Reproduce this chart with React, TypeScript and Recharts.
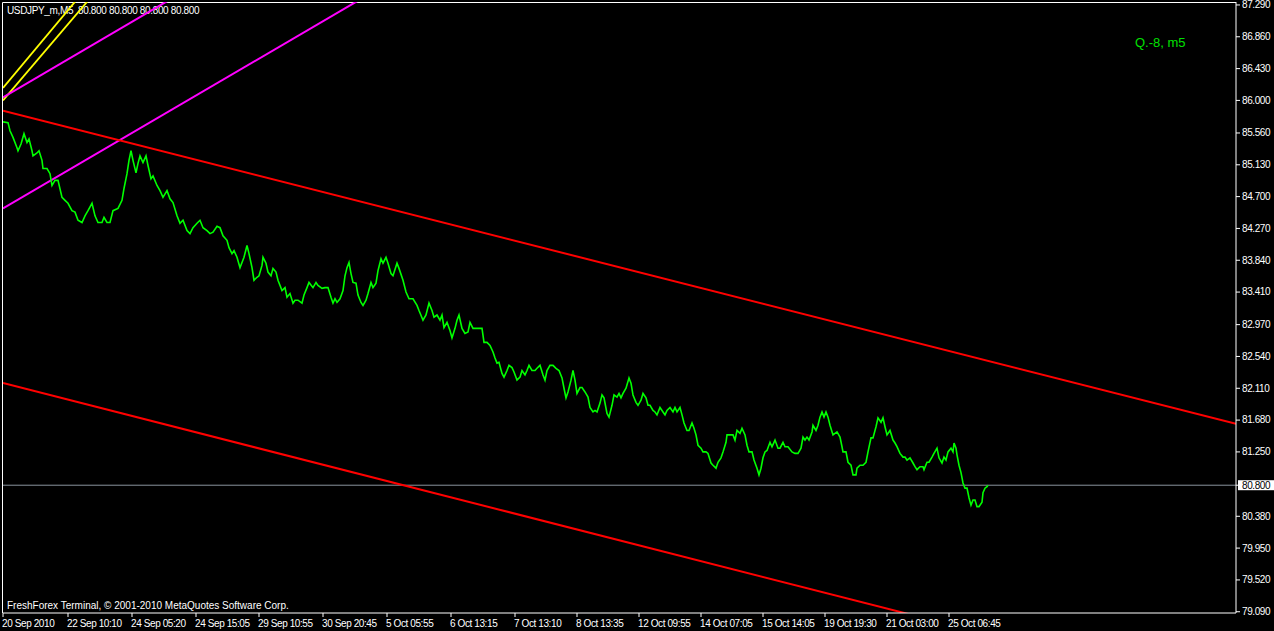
import React from 'react';
import { ComposedChart, Line, XAxis, YAxis, ReferenceLine } from 'recharts';

const W = 1274;
const H = 631;
const FONT = '"Liberation Sans", Arial, sans-serif';

const symbolTitle = 'USDJPY_m,M5  80.800 80.800 80.800 80.800';
const indicatorLabel = 'Q.-8, m5';
const footerText = 'FreshForex Terminal, \u00A9 2001-2010 MetaQuotes Software Corp.';

const currentPrice = 80.8;
const priceDomain: [number, number] = [79.073, 87.33];
const barDomain: [number, number] = [0, 616.5];

const priceTicks = [87.29, 86.86, 86.43, 86.0, 85.56, 85.13, 84.7, 84.27, 83.84, 83.41, 82.97, 82.54, 82.11, 81.68, 81.25, 80.8, 80.38, 79.95, 79.52, 79.09];

const timeTickBars = [0, 32.5, 64.5, 96.5, 128, 160, 192, 224, 256, 287, 318, 349, 380, 411, 442, 473];
const timeTickLabels = ['20 Sep 2010', '22 Sep 10:10', '24 Sep 05:20', '24 Sep 15:05', '29 Sep 10:55', '30 Sep 20:45', '5 Oct 05:55', '6 Oct 13:15', '7 Oct 13:10', '8 Oct 13:35', '12 Oct 09:55', '14 Oct 07:05', '15 Oct 14:05', '19 Oct 19:30', '21 Oct 03:00', '25 Oct 06:45'];

// [bar index, price]
const usdjpyM5: [number, number][] = [
  [0, 85.71], [2.5, 85.7], [3.5, 85.59], [5, 85.5], [7, 85.36], [7.5, 85.32], [9, 85.41], [10.5, 85.55], [12, 85.43], [13, 85.48], [14.5, 85.32], [15, 85.25], [17, 85.29], [18, 85.32], [19.5, 85.19], [20, 85.08], [22, 85.08], [23.5, 85.01], [24.5, 84.85], [26, 84.92], [27.5, 84.92], [29.5, 84.69], [31, 84.65], [32.5, 84.61], [34.5, 84.51], [36, 84.49], [37.5, 84.38], [39.5, 84.35], [41, 84.44], [42.5, 84.51], [44.5, 84.61], [46, 84.44], [47.5, 84.35], [49.5, 84.35], [50.5, 84.42], [52, 84.35], [53.5, 84.35], [55, 84.51], [57.5, 84.54], [59.5, 84.65], [60.5, 84.81], [62, 85.01], [63, 85.19], [64, 85.32], [65, 85.19], [66.5, 85.02], [67.5, 85.15], [68.5, 85.25], [70, 85.16], [71.5, 85.25], [72.5, 85.12], [74, 84.94], [75, 84.98], [77, 84.85], [78.5, 84.78], [80, 84.69], [82, 84.78], [83.5, 84.67], [85, 84.62], [87, 84.44], [88.5, 84.34], [90, 84.38], [92, 84.24], [93.5, 84.2], [95, 84.28], [97, 84.34], [98.5, 84.38],
  [100, 84.28], [102, 84.24], [103.5, 84.2], [105, 84.22], [107, 84.3], [108.5, 84.28], [110, 84.17], [112, 84.11], [113, 84.01], [114.5, 83.93], [115.5, 83.97], [117, 83.88], [118.5, 83.74], [119.5, 83.81], [120.5, 83.88], [122, 84.04], [123, 83.93], [124.5, 83.74], [125.5, 83.57], [127, 83.61], [128, 83.63], [129.5, 83.77], [130, 83.88], [131.5, 83.8], [132.5, 83.68], [134, 83.63], [135, 83.73], [136.5, 83.68], [137.5, 83.57], [139.5, 83.43], [141, 83.47], [142, 83.34], [143.5, 83.39], [145, 83.26], [146, 83.3], [147.5, 83.3], [149.5, 83.26], [150.5, 83.37], [152, 83.47], [153, 83.54], [155, 83.47], [156.5, 83.54], [157.5, 83.5], [159.5, 83.46], [161, 83.47], [162.5, 83.47], [164, 83.34], [165, 83.26], [166, 83.32], [167, 83.27], [168.5, 83.32], [170, 83.43], [171, 83.63], [172, 83.74], [173, 83.81], [174, 83.66], [175, 83.54], [176.5, 83.53], [177.5, 83.37], [179, 83.27], [180, 83.23], [181.5, 83.3], [182.5, 83.39], [184, 83.54], [185, 83.47], [186.5, 83.53], [187.5, 83.7], [189, 83.86], [190, 83.8], [191.5, 83.88], [192.5, 83.8], [194, 83.66], [195, 83.63], [197, 83.8], [198, 83.73],
  [200, 83.57], [201.5, 83.41], [203, 83.32], [205, 83.32], [207, 83.23], [208, 83.16], [210, 83.03], [211.5, 83.1], [213, 83.26], [214.5, 83.16], [215.5, 83.07], [217, 83.1], [218.5, 83.03], [219.5, 83.1], [220.5, 82.93], [222, 83.0], [223.5, 82.89], [224.5, 82.79], [226, 82.92], [227, 83.03], [228, 83.1], [229.5, 82.92], [231, 82.85], [232.5, 82.87], [233.5, 83.0], [235, 82.92], [237.5, 82.92], [239.5, 82.92], [240.5, 82.73], [242, 82.73], [243.5, 82.69], [245, 82.6], [246, 82.52], [247, 82.45], [248, 82.46], [249.5, 82.31], [250.5, 82.26], [252, 82.35], [253, 82.42], [254.5, 82.39], [255.5, 82.33], [257, 82.22], [258.5, 82.26], [259.5, 82.35], [261, 82.29], [262, 82.35], [263, 82.42], [264.5, 82.35], [266, 82.35], [267, 82.38], [268.5, 82.42], [270, 82.29], [271, 82.22], [272, 82.35], [273.5, 82.42], [275, 82.42], [276.5, 82.38], [278, 82.35], [279.5, 82.25], [280.5, 82.11], [281.5, 81.98], [282.5, 82.06], [284, 82.22], [285, 82.35], [286, 82.22], [287, 82.04], [288.5, 82.12], [289.5, 82.12], [291, 82.06], [292.5, 81.99], [293.5, 81.85], [295, 81.79], [296, 81.81], [297, 81.79], [298.5, 81.91], [299.5, 82.02], [300.5, 81.98], [302, 81.77], [303, 81.72], [304.5, 81.88], [305.5, 82.02], [307, 81.99], [308, 82.04], [309, 81.98], [310, 82.04], [311.5, 82.11], [313, 82.25], [314, 82.18], [315, 82.02], [316.5, 81.92], [317.5, 81.88], [319, 81.95], [320, 82.04], [321.5, 81.98], [322.5, 81.88],
  [323.5, 81.88], [325, 81.81], [326, 81.79], [327, 81.75], [328.5, 81.85], [330, 81.79], [331, 81.75], [332, 81.81], [333.5, 81.85], [335, 81.79], [336, 81.85], [337, 81.79], [338.5, 81.85], [339.5, 81.75], [340.5, 81.64], [342, 81.54], [343, 81.54], [344.5, 81.64], [345.5, 81.57], [346.5, 81.48], [347.5, 81.34], [349, 81.3], [350, 81.25], [351.5, 81.25], [352.5, 81.23], [354, 81.1], [355, 81.07], [356.5, 81.03], [357.5, 81.11], [359, 81.17], [360, 81.25], [361.5, 81.38], [362, 81.48], [363.5, 81.48], [365, 81.48], [366, 81.41], [367, 81.54], [368.5, 81.5], [369.5, 81.57], [371, 81.48], [372, 81.34], [373, 81.25], [374.5, 81.25], [375.5, 81.14], [377, 81.03], [378, 80.94], [379, 81.03], [380, 81.17], [381, 81.25], [382, 81.27], [383.5, 81.38], [384.5, 81.32], [386, 81.41], [387.5, 81.3], [388.5, 81.3], [390, 81.38], [391, 81.32], [392.5, 81.32], [394.5, 81.25], [396, 81.23], [397.5, 81.23], [399, 81.3], [400, 81.45], [401, 81.41], [402, 81.45], [403, 81.41], [404.5, 81.52], [405, 81.61], [406.5, 81.54], [407.5, 81.61], [408.5, 81.72], [409.5, 81.79], [410.5, 81.72], [411.5, 81.79], [412.5, 81.72], [413.5, 81.61], [415, 81.48], [416, 81.5], [417, 81.52], [418.5, 81.45],
  [419.5, 81.32], [420, 81.25], [421.5, 81.25], [422.5, 81.11], [424, 81.07], [425, 80.94], [426.5, 80.94], [427, 81.03], [428.5, 81.07], [430, 81.07], [431.5, 81.11], [432.5, 81.25], [434, 81.44], [435, 81.44], [436.5, 81.59], [437.5, 81.71], [439, 81.65], [440, 81.71], [441, 81.59], [442, 81.48], [443.5, 81.54], [445, 81.41], [446, 81.37], [447, 81.32], [448.5, 81.23], [450, 81.18], [451, 81.18], [452, 81.14], [453.5, 81.17], [455, 81.1], [456, 81.05], [457, 81.01], [458.5, 81.05], [460, 81.05], [460.5, 81.01], [462, 81.11], [463, 81.11], [464.5, 81.18], [465.5, 81.23], [467, 81.3], [468, 81.17], [469.5, 81.1], [470.5, 81.18], [471.5, 81.14], [472.5, 81.25], [474, 81.3], [475, 81.25], [475.5, 81.37], [476.5, 81.3], [477, 81.21], [478, 81.07], [479, 80.97], [480, 80.83], [481, 80.76], [482, 80.76], [483, 80.63], [484, 80.53], [485, 80.6], [486, 80.6], [487, 80.51], [488, 80.51], [489.5, 80.57], [490, 80.7], [491, 80.76], [492, 80.78], [492.5, 80.8],
];

// Trend lines: [bar, price] endpoints
const channelUpper: [number, number][] = [[0, 85.86], [616.5, 81.63]];
const channelLower: [number, number][] = [[0, 82.18], [616.5, 77.93]];
const magentaLong: [number, number][] = [[0, 84.54], [616.5, 94.29]];
const magentaShort: [number, number][] = [[0, 86.04], [200, 89.21]];
const yellowFirst: [number, number][] = [[0, 86.17], [100, 89.4]];
const yellowSecond: [number, number][] = [[0, 86.0], [100, 89.17]];

const toPoints = (arr: [number, number][]) => arr.map(([b, p]) => ({ b, p }));

const PriceTick = (props: any) => {
  const { x, y, payload } = props;
  const v = payload.value as number;
  const label = v.toFixed(3);
  if (Math.abs(v - currentPrice) < 1e-6) {
    return (
      <g>
        <rect x={x - 4} y={y - 5} width={40} height={10} fill="#ffffff" />
        <text x={x} y={y} dy={3.4} fill="#000000" fontSize={10} fontFamily={FONT} letterSpacing={-0.4}>{label}</text>
      </g>
    );
  }
  return (
    <text x={x} y={y} dy={3.4} fill="#ffffff" fontSize={10} fontFamily={FONT} letterSpacing={-0.4}>{label}</text>
  );
};

const TimeTick = (props: any) => {
  const { x, y, payload } = props;
  const idx = timeTickBars.indexOf(payload.value);
  return (
    <text x={x - 1} y={y} dy={8} fill="#ffffff" fontSize={10} fontFamily={FONT} letterSpacing={-0.4} textAnchor="start">
      {timeTickLabels[idx]}
    </text>
  );
};

const trend = (data: [number, number][], color: string, width: number, key: string) => (
  <Line
    key={key}
    data={toPoints(data)}
    dataKey="p"
    type="linear"
    stroke={color}
    strokeWidth={width}
    dot={false}
    activeDot={false}
    isAnimationActive={false}
    legendType="none"
  />
);

export default function App() {
  return (
    <div style={{ position: 'absolute', left: 0, top: 0, width: W, height: H, background: '#000', overflow: 'hidden' }}>
      <svg width={W} height={H} style={{ position: 'absolute', left: 0, top: 0 }}>
        <line x1={2.5} y1={2.5} x2={1236} y2={2.5} stroke="#ffffff" strokeWidth={1} />
        <line x1={2.5} y1={2.5} x2={2.5} y2={613} stroke="#ffffff" strokeWidth={1} />
        <text x={7} y={14} fill="#ffffff" fontSize={10} fontFamily={FONT} letterSpacing={-0.35} style={{ whiteSpace: 'pre' }}>{symbolTitle}</text>
        <text x={1135} y={47} fill="#00e000" fontSize={13} fontFamily={FONT}>{indicatorLabel}</text>
        <text x={7} y={609} fill="#ffffff" fontSize={10} fontFamily={FONT}>{footerText}</text>
      </svg>
      <div style={{ position: 'absolute', left: 0, top: 0 }}>
        <ComposedChart width={W} height={H} margin={{ top: 2, right: 0, bottom: 0, left: 3 }}>
          <XAxis
            type="number"
            dataKey="b"
            domain={barDomain}
            allowDataOverflow
            ticks={timeTickBars}
            interval={0}
            height={18}
            tickSize={4}
            tickMargin={2}
            axisLine={{ stroke: '#ffffff' }}
            tickLine={{ stroke: '#ffffff' }}
            tick={<TimeTick />}
          />
          <YAxis
            orientation="right"
            type="number"
            domain={priceDomain}
            allowDataOverflow
            ticks={priceTicks}
            interval={0}
            width={38}
            tickSize={4}
            tickMargin={2}
            axisLine={{ stroke: '#ffffff' }}
            tickLine={{ stroke: '#ffffff' }}
            tick={<PriceTick />}
          />
          <ReferenceLine y={currentPrice} stroke="#8a949e" strokeWidth={1} />
          {trend(yellowFirst, '#ffff00', 1.8, 'y1')}
          {trend(yellowSecond, '#ffff00', 1.8, 'y2')}
          {trend(magentaShort, '#ff00ff', 2, 'm1')}
          {trend(magentaLong, '#ff00ff', 2, 'm2')}
          {trend(channelUpper, '#ff0000', 2, 'r1')}
          {trend(channelLower, '#ff0000', 2, 'r2')}
          <Line
            data={toPoints(usdjpyM5)}
            dataKey="p"
            type="linear"
            stroke="#00ff00"
            strokeWidth={1.6}
            dot={false}
            activeDot={false}
            isAnimationActive={false}
            legendType="none"
          />
        </ComposedChart>
      </div>
    </div>
  );
}
